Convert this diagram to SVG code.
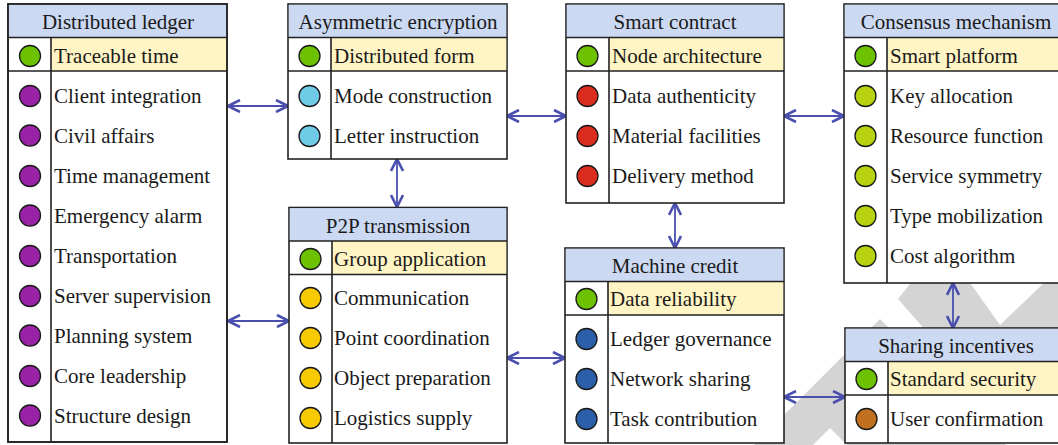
<svg xmlns="http://www.w3.org/2000/svg" width="1058" height="445" viewBox="0 0 1058 445">
<defs>
<style>
.box{fill:#ffffff;stroke:#222;stroke-width:1.6}
.hd{fill:#ccd9f2}
.yl{fill:#fff5c4}
.ln{stroke:#222;stroke-width:1.6;fill:none}
.t{font-family:"Liberation Serif","Times New Roman",serif;font-size:21px;fill:#1a1a1a}
.h{text-anchor:middle}
.c{stroke:#1a1a1a;stroke-width:1.3}
.g{fill:#6cc200}.p{fill:#9a22a6}.lb{fill:#70cbe6}.r{fill:#dc2b1f}.y{fill:#f7c900}.b{fill:#2b5fa9}.o{fill:#b8d210}.br{fill:#c0701f}
.con{stroke:#4a4fae;stroke-width:1.8;fill:none;marker-start:url(#ah);marker-end:url(#ah)}
.wm{fill:#d4d4d4}
</style>
<marker id="ah" viewBox="0 0 14 14" refX="13" refY="7" markerWidth="14" markerHeight="14" markerUnits="userSpaceOnUse" orient="auto-start-reverse">
<path d="M1,1 L13,7 L1,13" fill="none" stroke="#4a4fae" stroke-width="2.6"/>
</marker>
</defs>
<rect width="1058" height="445" fill="#ffffff"/>
<g id="watermark">
<polygon class="wm" points="913,280 968,280 1000,325 1047,280 1062,280 1062,332 927,332 898,299"/>
<polygon class="wm" points="880,319 754,445 813,445 830,428 847,445 1006,445"/>
</g>
<g id="connectors">
<line class="con" x1="228" y1="106" x2="288" y2="106"/>
<line class="con" x1="507" y1="116" x2="566" y2="116"/>
<line class="con" x1="784" y1="116" x2="844" y2="116"/>
<line class="con" x1="397" y1="159" x2="397" y2="207"/>
<line class="con" x1="675" y1="203" x2="675" y2="248"/>
<line class="con" x1="228" y1="321" x2="289" y2="321"/>
<line class="con" x1="507" y1="358" x2="565" y2="358"/>
<line class="con" x1="784" y1="397" x2="845" y2="397"/>
<line class="con" x1="953" y1="283" x2="953" y2="328"/>
</g>
<g id="distributed-ledger" transform="translate(8,4)">
<rect class="box" width="219" height="438"/>
<rect class="hd" x="0.8" y="0.8" width="217.4" height="32.7"/>
<rect class="yl" x="43" y="33.5" width="175.2" height="33.5"/>
<path class="ln" d="M0,33.5H219M0,67H219M43,33.5V438"/>
<rect class="box" width="219" height="438" fill="none" style="fill:none"/>
<text class="t h" x="110" y="25">Distributed ledger</text>
<circle class="c g" cx="22" cy="52" r="10.5"/><text class="t" x="46" y="59">Traceable time</text>
<circle class="c p" cx="22" cy="92" r="10.5"/><text class="t" x="46" y="99">Client integration</text>
<circle class="c p" cx="22" cy="131.5" r="10.5"/><text class="t" x="46" y="138.5">Civil affairs</text>
<circle class="c p" cx="22" cy="172" r="10.5"/><text class="t" x="46" y="179">Time management</text>
<circle class="c p" cx="22" cy="211.5" r="10.5"/><text class="t" x="46" y="218.5">Emergency alarm</text>
<circle class="c p" cx="22" cy="252" r="10.5"/><text class="t" x="46" y="259">Transportation</text>
<circle class="c p" cx="22" cy="292" r="10.5"/><text class="t" x="46" y="299">Server supervision</text>
<circle class="c p" cx="22" cy="331.5" r="10.5"/><text class="t" x="46" y="338.5">Planning system</text>
<circle class="c p" cx="22" cy="372" r="10.5"/><text class="t" x="46" y="379">Core leadership</text>
<circle class="c p" cx="22" cy="411.5" r="10.5"/><text class="t" x="46" y="418.5">Structure design</text>
</g>
<g id="asymmetric-encryption" transform="translate(288,4)">
<rect class="box" width="219" height="155"/>
<rect class="hd" x="0.8" y="0.8" width="217.4" height="32.7"/>
<rect class="yl" x="43" y="33.5" width="175.2" height="33.5"/>
<path class="ln" d="M0,33.5H219M0,67H219M43,33.5V155"/>
<text class="t h" x="110" y="25">Asymmetric encryption</text>
<circle class="c g" cx="21.5" cy="52" r="10.5"/><text class="t" x="46" y="59">Distributed form</text>
<circle class="c lb" cx="21.5" cy="92" r="10.5"/><text class="t" x="46" y="99">Mode construction</text>
<circle class="c lb" cx="21.5" cy="132" r="10.5"/><text class="t" x="46" y="139">Letter instruction</text>
</g>
<g id="smart-contract" transform="translate(566,4)">
<rect class="box" width="218" height="199"/>
<rect class="hd" x="0.8" y="0.8" width="216.4" height="32.7"/>
<rect class="yl" x="43" y="33.5" width="174.2" height="33.5"/>
<path class="ln" d="M0,33.5H218M0,67H218M43,33.5V199"/>
<text class="t h" x="109" y="25">Smart contract</text>
<circle class="c g" cx="21.5" cy="52" r="10.5"/><text class="t" x="46" y="59">Node architecture</text>
<circle class="c r" cx="21.5" cy="92" r="10.5"/><text class="t" x="46" y="99">Data authenticity</text>
<circle class="c r" cx="21.5" cy="132" r="10.5"/><text class="t" x="46" y="139">Material facilities</text>
<circle class="c r" cx="21.5" cy="172" r="10.5"/><text class="t" x="46" y="179">Delivery method</text>
</g>
<g id="consensus-mechanism" transform="translate(844,4)">
<rect class="box" width="226" height="279"/>
<rect class="hd" x="0.8" y="0.8" width="224.4" height="32.7"/>
<rect class="yl" x="43" y="33.5" width="182.2" height="33.5"/>
<path class="ln" d="M0,33.5H226M0,67H226M43,33.5V279"/>
<text class="t h" x="112" y="25">Consensus mechanism</text>
<circle class="c g" cx="21.5" cy="52" r="10.5"/><text class="t" x="46" y="59">Smart platform</text>
<circle class="c o" cx="21.5" cy="92" r="10.5"/><text class="t" x="46" y="99">Key allocation</text>
<circle class="c o" cx="21.5" cy="132" r="10.5"/><text class="t" x="46" y="139">Resource function</text>
<circle class="c o" cx="21.5" cy="172" r="10.5"/><text class="t" x="46" y="179">Service symmetry</text>
<circle class="c o" cx="21.5" cy="212" r="10.5"/><text class="t" x="46" y="219">Type mobilization</text>
<circle class="c o" cx="21.5" cy="252" r="10.5"/><text class="t" x="46" y="259">Cost algorithm</text>
</g>
<g id="p2p-transmission" transform="translate(289,207.5)">
<rect class="box" width="218" height="235.5"/>
<rect class="hd" x="0.8" y="0.8" width="216.4" height="32.7"/>
<rect class="yl" x="43" y="33.5" width="174.2" height="33.5"/>
<path class="ln" d="M0,33.5H218M0,67H218M43,33.5V235.5"/>
<text class="t h" x="109" y="25">P2P transmission</text>
<circle class="c g" cx="21.5" cy="51.5" r="10.5"/><text class="t" x="45" y="58.5">Group application</text>
<circle class="c y" cx="21.5" cy="90.5" r="10.5"/><text class="t" x="45" y="97.5">Communication</text>
<circle class="c y" cx="21.5" cy="130.5" r="10.5"/><text class="t" x="45" y="137.5">Point coordination</text>
<circle class="c y" cx="21.5" cy="170.5" r="10.5"/><text class="t" x="45" y="177.5">Object preparation</text>
<circle class="c y" cx="21.5" cy="210.5" r="10.5"/><text class="t" x="45" y="217.5">Logistics supply</text>
</g>
<g id="machine-credit" transform="translate(565,248)">
<rect class="box" width="219" height="195"/>
<rect class="hd" x="0.8" y="0.8" width="217.4" height="32.7"/>
<rect class="yl" x="43" y="33.5" width="175.2" height="33.5"/>
<path class="ln" d="M0,33.5H219M0,67H219M43,33.5V195"/>
<text class="t h" x="110" y="25">Machine credit</text>
<circle class="c g" cx="21.5" cy="51" r="10.5"/><text class="t" x="45" y="58">Data reliability</text>
<circle class="c b" cx="21.5" cy="91" r="10.5"/><text class="t" x="45" y="98">Ledger governance</text>
<circle class="c b" cx="21.5" cy="131" r="10.5"/><text class="t" x="45" y="138">Network sharing</text>
<circle class="c b" cx="21.5" cy="171" r="10.5"/><text class="t" x="45" y="178">Task contribution</text>
</g>
<g id="sharing-incentives" transform="translate(845,328)">
<rect class="box" width="225" height="115"/>
<rect class="hd" x="0.8" y="0.8" width="223.4" height="32.7"/>
<rect class="yl" x="43" y="33.5" width="181.2" height="33.5"/>
<path class="ln" d="M0,33.5H225M0,67H225M43,33.5V115"/>
<text class="t h" x="111" y="25">Sharing incentives</text>
<circle class="c g" cx="21.5" cy="51" r="10.5"/><text class="t" x="45" y="58">Standard security</text>
<circle class="c br" cx="21.5" cy="91" r="10.5"/><text class="t" x="45" y="98">User confirmation</text>
</g>
</svg>
